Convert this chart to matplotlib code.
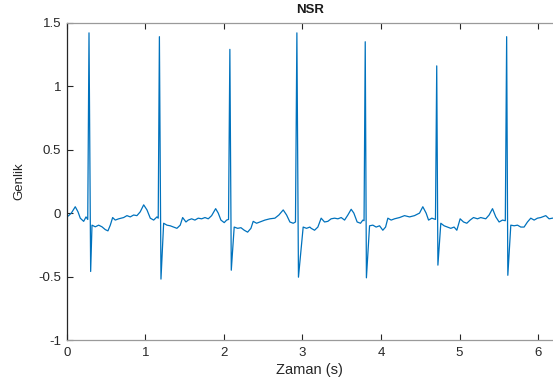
import matplotlib
matplotlib.use('Agg')
import matplotlib.pyplot as plt
from matplotlib.ticker import FuncFormatter

# ECG trace (NSR)
time = [0.000, 0.025, 0.059, 0.109, 0.144, 0.173, 0.216, 0.246, 0.268,
        0.284, 0.305, 0.322, 0.364, 0.407, 0.449, 0.491, 0.525, 0.555,
        0.585, 0.618, 0.662, 0.725, 0.767, 0.809, 0.852, 0.894, 0.936,
        0.980, 1.022, 1.064, 1.107, 1.149, 1.165,
        1.180, 1.200, 1.234, 1.276, 1.318, 1.361, 1.403, 1.445, 1.476,
        1.518, 1.547, 1.590, 1.632, 1.674, 1.718, 1.760, 1.802, 1.845,
        1.896, 1.929, 1.963, 2.005, 2.036, 2.060,
        2.077, 2.095, 2.132, 2.176, 2.218, 2.260, 2.303, 2.345, 2.374,
        2.417, 2.459, 2.523, 2.586, 2.650, 2.701, 2.756, 2.799, 2.841,
        2.883, 2.912,
        2.930, 2.950, 3.010, 3.053, 3.095, 3.112, 3.155, 3.197, 3.239,
        3.282, 3.324, 3.366, 3.410, 3.452, 3.494, 3.537, 3.579, 3.621,
        3.655, 3.697, 3.740, 3.770, 3.785,
        3.800, 3.815, 3.855, 3.897, 3.939, 3.982, 4.024, 4.059, 4.088,
        4.130, 4.173, 4.237, 4.300, 4.364, 4.427, 4.491, 4.533, 4.575,
        4.606, 4.648, 4.694,
        4.710, 4.725, 4.762, 4.804, 4.847, 4.889, 4.931, 4.966, 5.008,
        5.051, 5.093, 5.135, 5.178, 5.229, 5.270, 5.334, 5.377, 5.420,
        5.462, 5.504, 5.547, 5.583,
        5.600, 5.615, 5.653, 5.695, 5.738, 5.780, 5.822, 5.865, 5.907,
        5.950, 5.992, 6.034, 6.098, 6.140, 6.183]

amp = [-0.030, -0.020, 0.000, 0.050, 0.010, -0.040, -0.065, -0.030, -0.050,
       1.420, -0.460, -0.095, -0.108, -0.095, -0.108, -0.130, -0.140, -0.095,
       -0.035, -0.055, -0.045, -0.035, -0.020, -0.030, -0.015, -0.020, 0.010,
       0.065, 0.025, -0.040, -0.055, -0.030, -0.040,
       1.390, -0.520, -0.080, -0.095, -0.100, -0.110, -0.120, -0.095, -0.035,
       -0.070, -0.055, -0.045, -0.055, -0.040, -0.045, -0.035, -0.045, -0.020,
       0.035, 0.000, -0.055, -0.075, -0.055, -0.050,
       1.290, -0.450, -0.110, -0.120, -0.115, -0.135, -0.150, -0.120, -0.065,
       -0.080, -0.070, -0.055, -0.045, -0.040, -0.015, 0.025, -0.015, -0.070,
       -0.080, -0.070,
       1.420, -0.505, -0.110, -0.120, -0.110, -0.120, -0.135, -0.110, -0.040,
       -0.070, -0.065, -0.045, -0.040, -0.045, -0.035, -0.055, -0.015, 0.030,
       0.000, -0.070, -0.080, -0.055, -0.060,
       1.350, -0.510, -0.100, -0.095, -0.110, -0.100, -0.135, -0.110, -0.040,
       -0.055, -0.045, -0.035, -0.020, -0.030, -0.020, 0.000, 0.050, 0.000,
       -0.055, -0.040, -0.050,
       1.160, -0.410, -0.080, -0.100, -0.110, -0.120, -0.110, -0.135, -0.045,
       -0.070, -0.080, -0.055, -0.035, -0.045, -0.035, -0.045, -0.015, 0.035,
       -0.030, -0.070, -0.055, -0.060,
       1.390, -0.490, -0.095, -0.100, -0.095, -0.110, -0.110, -0.070, -0.040,
       -0.055, -0.040, -0.035, -0.020, -0.045, -0.040]

x_ticks = [0, 1, 2, 3, 4, 5, 6]
y_ticks = [-1, -0.5, 0, 0.5, 1, 1.5]

plt.rcParams['font.family'] = ['Liberation Sans', 'DejaVu Sans']

fig = plt.figure(figsize=(5.53, 3.87), dpi=100)
ax = fig.add_axes([0.1206, 0.1214, 0.8794, 0.8199])

ax.plot(time, amp, color='#0072BD', linewidth=0.9)

ax.set_xlim(0, 6.19)
ax.set_ylim(-1, 1.5)
ax.set_xticks(x_ticks)
ax.set_yticks(y_ticks)
ax.yaxis.set_major_formatter(FuncFormatter(lambda v, p: ('%g' % v)))
ax.tick_params(direction='in', length=4, width=0.8, colors='#262626',
               labelsize=9.5, top=True, right=False)
ax.tick_params(axis='x', pad=5)
ax.tick_params(axis='y', pad=4)

ax.spines['left'].set_color('#262626')
ax.spines['bottom'].set_color('#9a9a9a')
ax.spines['top'].set_color('#9a9a9a')
ax.spines['right'].set_visible(False)
for s in ax.spines.values():
    s.set_linewidth(0.9)

ax.set_xlabel('Zaman (s)', fontsize=10.5, color='#262626', labelpad=3)
ax.set_ylabel('Genlik', fontsize=9.5, color='#262626', labelpad=9)
ax.set_title('NSR', fontsize=9.5, fontweight='bold', color='#1a1a1a', pad=7)

fig.savefig('out.png', dpi=100)
